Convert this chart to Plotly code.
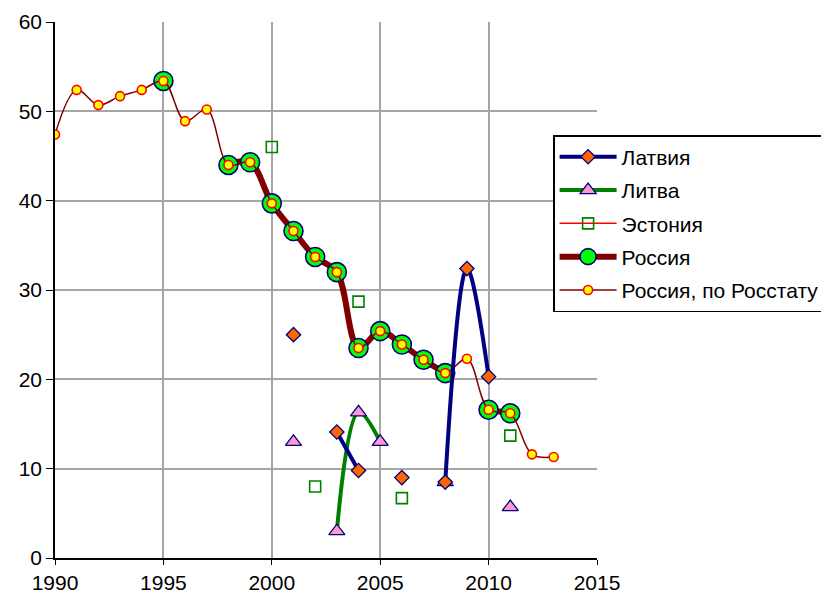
import plotly.graph_objects as go

years = list(range(1990, 2014))

latvia = {2001: 25.0, 2003: 14.1, 2004: 9.8, 2006: 9.0, 2008: 8.5, 2009: 32.4, 2010: 20.3}
lithuania = {2001: 13.0, 2003: 3.0, 2004: 16.3, 2005: 13.0, 2008: 8.5, 2011: 5.7}
estonia = {2000: 46.0, 2002: 8.0, 2004: 28.7, 2006: 6.7, 2011: 13.7}
russia = {1995: 53.4, 1998: 44.0, 1999: 44.3, 2000: 39.7, 2001: 36.6, 2002: 33.7,
          2003: 32.0, 2004: 23.5, 2005: 25.4, 2006: 23.9, 2007: 22.2, 2008: 20.7,
          2010: 16.6, 2011: 16.2}
rosstat = [47.4, 52.4, 50.7, 51.7, 52.4, 53.4, 48.9, 50.2, 44.0, 44.3, 39.7, 36.6,
           33.7, 32.0, 23.5, 25.4, 23.9, 22.2, 20.7, 22.3, 16.6, 16.2, 11.6, 11.3]

x_ticks = [1990, 1995, 2000, 2005, 2010, 2015]
y_ticks = [0, 10, 20, 30, 40, 50, 60]


def series(d):
    return [d.get(y) for y in years]


FONT = "Liberation Sans, Arial, sans-serif"

fig = go.Figure()

fig.add_trace(go.Scatter(
    x=years, y=series(estonia), name="Эстония", mode="lines+markers",
    line=dict(color="#ff0000", width=1.5, shape="spline"),
    marker=dict(symbol="square-open", size=11, color="#008000", line=dict(width=1.6, color="#008000")),
    legendrank=3, legendgroup="c"))

fig.add_trace(go.Scatter(
    x=years, y=series(lithuania), name="Литва", mode="lines+markers",
    line=dict(color="#008000", width=4, shape="spline", smoothing=1),
    marker=dict(symbol="triangle-up", size=14, color="#ff99cc", line=dict(width=1.3, color="#000080")),
    legendrank=2, legendgroup="b"))

fig.add_trace(go.Scatter(
    x=years, y=series(russia), name="Россия", mode="lines+markers",
    line=dict(color="#800000", width=6, shape="spline", smoothing=1),
    marker=dict(symbol="circle", size=19, color="#00ff00", line=dict(width=1.6, color="#000080")),
    legendrank=4, legendgroup="d"))

fig.add_trace(go.Scatter(
    x=years, y=rosstat, name="Россия, по Росстату", mode="lines+markers",
    line=dict(color="#800000", width=1.5, shape="spline", smoothing=1),
    marker=dict(symbol="circle", size=9, color="#ffff00", line=dict(width=1.6, color="#ff0000")),
    legendrank=5, legendgroup="e"))

fig.add_trace(go.Scatter(
    x=years, y=series(latvia), name="Латвия", mode="lines+markers",
    line=dict(color="#000080", width=4, shape="spline", smoothing=1),
    marker=dict(symbol="diamond", size=11, color="#ff6600", line=dict(width=1.3, color="#000080")),
    legendrank=1, legendgroup="a"))

fig.update_layout(
    width=821, height=586,
    margin=dict(l=47, r=232, t=14, b=36, autoexpand=False),
    paper_bgcolor="white", plot_bgcolor="white",
    font=dict(family=FONT, size=21, color="black"),
    showlegend=True,
    legend=dict(
        x=0.919, y=0.789, xanchor="left", yanchor="top",
        bgcolor="white", bordercolor="black", borderwidth=1.5,
        font=dict(family=FONT, size=21, color="black"),
        tracegroupgap=3, itemwidth=57, traceorder="grouped",
    ),
    xaxis=dict(
        range=[1990, 2015], tickvals=x_ticks, ticktext=[str(v) for v in x_ticks],
        showgrid=True, gridcolor="#a6a6a6", gridwidth=1.5,
        showline=True, linecolor="black", linewidth=1.5,
        ticks="outside", ticklen=5, tickcolor="black", zeroline=False,
        tickfont=dict(size=21), automargin=False,
    ),
    yaxis=dict(
        range=[0, 60], tickvals=y_ticks,
        showgrid=True, gridcolor="#a6a6a6", gridwidth=1.5,
        showline=True, linecolor="black", linewidth=1.5,
        ticks="outside", ticklen=7, tickcolor="black", zeroline=False,
        tickfont=dict(size=21), automargin=False,
    ),
)

fig.write_html("out.html")
